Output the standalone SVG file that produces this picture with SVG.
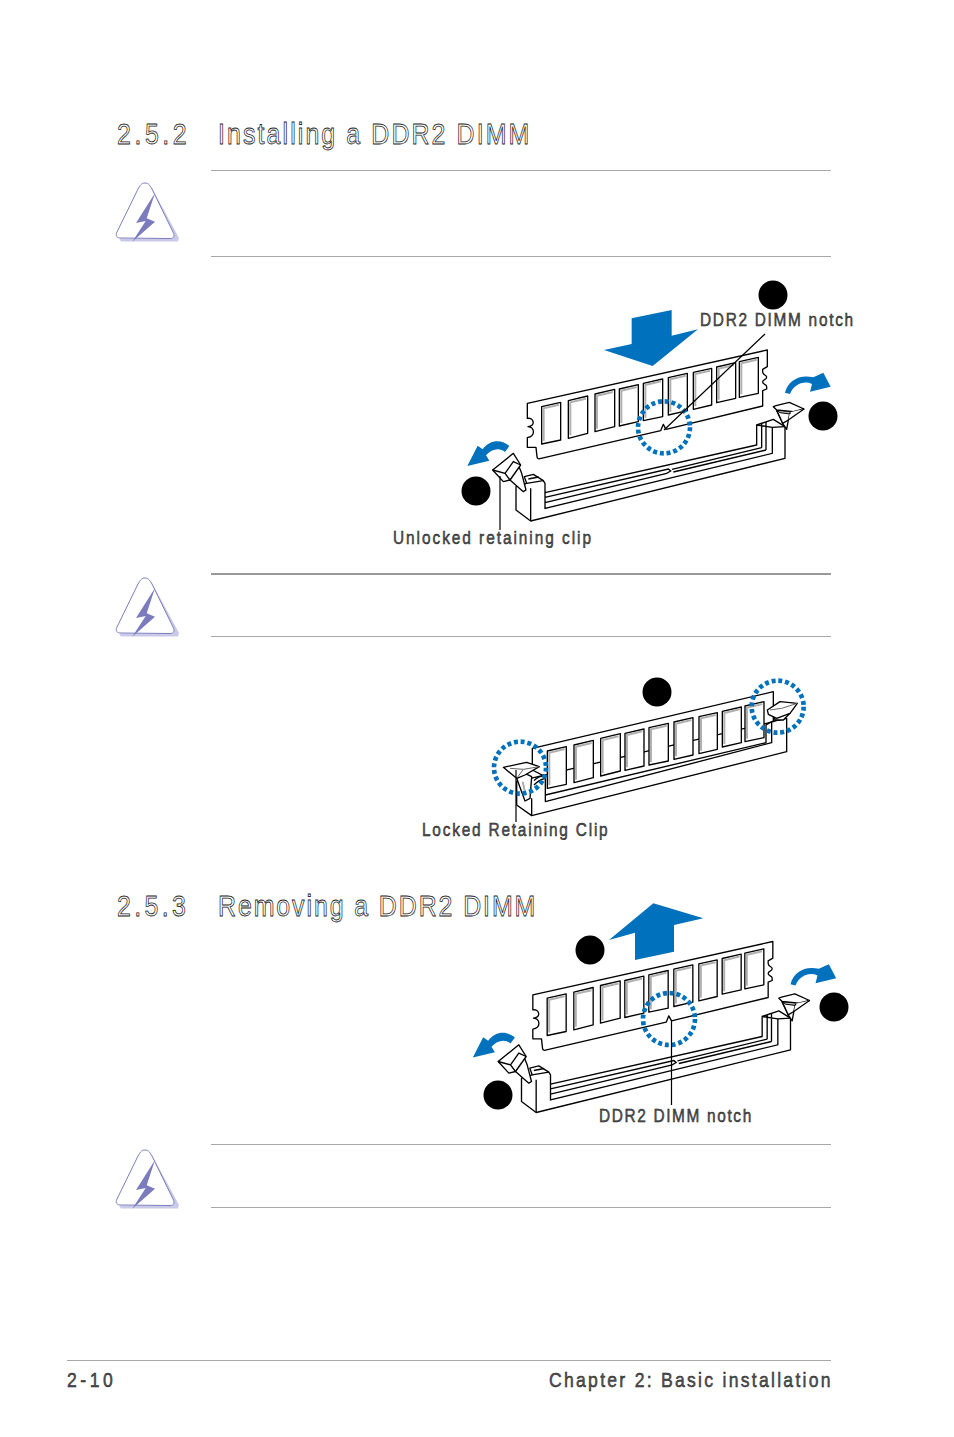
<svg xmlns="http://www.w3.org/2000/svg" xmlns:xlink="http://www.w3.org/1999/xlink" width="954" height="1437" viewBox="0 0 954 1437">
<style>
.h{font-family:"Liberation Sans",Arial,sans-serif;font-size:29px;fill:#fff;stroke:#222;stroke-width:.8px;opacity:.99}
.l{font-family:"Liberation Sans",Arial,sans-serif;font-size:17.5px;fill:#555;stroke:#111;stroke-width:.45px;opacity:.99}
.f{font-family:"Liberation Sans",Arial,sans-serif;font-size:20px;fill:#555;stroke:#111;stroke-width:.45px;opacity:.99}
.r{stroke:#a8a8a8;stroke-width:1.2;fill:none}
.k{fill:#fff;stroke:#000;stroke-width:4;stroke-linejoin:round}
.g{fill:#bdbdbd;stroke:#000;stroke-width:3;stroke-linejoin:round}
.n{fill:none;stroke:#000;stroke-width:4}
.c{fill:none;stroke:#b0b0b0;stroke-width:6}
.b{fill:#0071bc}
.d{fill:none;stroke:#0071bc;stroke-width:14;stroke-dasharray:12 8.400}
.s{fill:none;stroke:#000;stroke-width:1.2}
</style>
<defs>
<g id="warn">
<path d="M151 186L179 238L178 241.500H121L119 238.500H172.500L174 236Z" fill="#c9c9e8"/>
<path d="M145 183C141 183 140 186 138 189L117 232C115 236 117 238 121 238L170 238.500C174 238.500 175 236 173 232L152 189C150 186 149 183 145 183Z" fill="#fff" stroke="#7d7dbd" stroke-width="1"/>
<path d="M155 193L136 223L145.700 221L132.300 241.700L155 221.700L146.700 218.300Z" fill="#7b7bbd"/>
</g>
<g id="chips">
<path class="k" d="M245 410L302 397V510L245 522ZM325 392L383 378V490L325 505ZM405 372L464 358V470L405 485ZM478 357L535 344V455L478 468ZM550 340L608 327V440L550 452ZM625 323L682 310V422L625 435ZM700 307L755 295V405L700 418ZM770 291L827 278V385L770 398ZM838 275L895 262V370L838 382Z"/>
<path class="c" d="M251 513V415L297 404M331 496V397L378 386M411 476V377L459 366M484 459V362L530 351M556 443V345L603 334M631 426V328L677 317M706 409V312L750 302M776 389V296L822 285M844 373V280L890 269"/>
</g>
<g id="module">
<path class="k" d="M202 400L922 240V290L908 298V306C908 316 920 314 920 322C920 330 908 328 908 336C908 344 920 342 920 350V357L908 362V408L618 478L610 463L602 482L240 566Q232 568 231 560L228 532H202V503C228 498 224 472 204 470C228 468 222 442 202 445Z"/>
<use href="#chips" xlink:href="#chips"/>
</g>
<g id="socket">
<path class="k" d="M168 650V720L212 753L975 565V470L940 448L890 465V525L255 668V640L250 632L220 613L193 620L200 640L168 650Z"/>
<path class="n" d="M212 753V655M200 640L250 632M205 627L236 621M255 668V715L937 550V472L975 470M890 465L937 472M905 460V533M918 456V540M255 682L625 597L632 603L620 610L255 698M636 598L905 533M640 606L918 540"/>
<path class="k" d="M150 630L175 585L185 610L198 660L190 665Z"/>
<path class="k" d="M98 600L160 550L182 585L150 630L130 635Z"/>
<path class="n" d="M98 600L135 610L150 630M135 610L160 575L182 585"/>
<path class="k" d="M968 460L980 478L985 450L950 422Z"/>
<path class="k" d="M950 420L990 427L985 450L968 460Z"/>
<path class="g" d="M950 420L1000 425L990 432L960 428Z"/>
<path class="k" d="M940 410L948 407L988 397L1032 417L1000 425L950 420Z"/>
<path class="k" d="M1032 417L985 450L990 427Z" style="stroke:none"/>
<path class="n" d="M1032 417L985 450M990 427V432"/>
</g>
<g id="open">
<use href="#socket" xlink:href="#socket"/>
<use href="#module" xlink:href="#module"/>
<path class="b" d="M975 368C985 330 1020 312 1060 322L1090 308L1112 350L1050 365L1056 342C1030 330 1000 345 990 372Z"/>
<path class="b" d="M148 528C125 508 90 508 68 538L53 527L22 588L88 572L78 556C95 535 120 532 135 546Z"/>
</g>
</defs>

<g id="section-252">
<text class="h" transform="translate(117 144) scale(.86 1)" textLength="81" lengthAdjust="spacing">2.5.2</text>
<text class="h" transform="translate(218 144) scale(.86 1)" textLength="362" lengthAdjust="spacing">Installing a DDR2 DIMM</text>
</g>
<g id="rules">
<path class="r" d="M211 170.500H831M211 256.500H831M211 636.500H831M211 1144.500H831M211 1207.500H831M67 1360.500H831"/>
<path d="M211 574H831" stroke="#999" stroke-width="1.800"/>
</g>
<g id="warning-1"><use href="#warn" xlink:href="#warn"/></g>
<g id="warning-2"><use href="#warn" xlink:href="#warn" y="395"/></g>
<g id="warning-3"><use href="#warn" xlink:href="#warn" y="967"/></g>

<g id="install-figure" transform="translate(460 270) scale(.33333)">
<use href="#open" xlink:href="#open"/>
<path class="b" d="M515 145L635 120V197L714 178L578 288L432 240L515 222Z"/>
<circle class="d" cx="612" cy="472" r="78"/>
</g>

<g id="locked-figure" transform="translate(410 670) scale(.33333)">
<path class="k" d="M320 335V405L365 437L1130 245V145L1085 155V218L406 395V320L367 300V235L1090 65V155Z"/>
<g transform="translate(167 -167)"><use href="#chips" xlink:href="#chips"/></g>
<path class="n" d="M406 375L1068 218V165L1085 155M365 437V385M1085 155L1125 145"/>
<path class="n" d="M372 332C385 318 395 318 405 318M372 345C385 330 395 328 405 325"/>
<path class="k" d="M320 325L345 393L360 385L365 320L345 310Z"/>
<path class="c" d="M338 335L347 375"/>
<path class="k" d="M280 292L350 277L388 290L345 315L320 325Z"/>
<path d="M300 295L340 298L388 290M340 298L320 325" fill="none" stroke="#666" stroke-width="3"/>
<path class="k" d="M1090 130L1095 150H1120L1140 130Z"/>
<path class="k" d="M1072 120L1110 95L1162 100L1140 130L1100 145L1075 133Z"/>
<path d="M1080 120L1115 115L1162 100" fill="none" stroke="#666" stroke-width="3"/>
<circle class="d" cx="330" cy="293" r="78"/>
<circle class="d" cx="1103" cy="110" r="78"/>
</g>

<g id="remove-figure" transform="translate(465.500 861.500) scale(.33333)">
<use href="#open" xlink:href="#open"/>
</g>
<g id="remove-arrow" transform="translate(460 890) scale(.33333)">
<path class="b" d="M580 40L730 85L642 105V185L525 210V128L447 150Z"/>
<circle class="d" cx="627" cy="387" r="78"/>
</g>

<g id="connectors">
<path class="s" d="M765 334L664 430M500 476V530M516 770V822M671.500 1021V1105"/>
</g>

<g id="badge-1"><circle cx="773" cy="295" r="14.500"/></g>
<g id="badge-2"><circle cx="823" cy="416" r="14.500"/></g>
<g id="badge-3"><circle cx="476" cy="491" r="14.500"/></g>
<g id="badge-4"><circle cx="657" cy="692" r="14.500"/></g>
<g id="badge-5"><circle cx="590" cy="950" r="14.500"/></g>
<g id="badge-6"><circle cx="834" cy="1007" r="14.500"/></g>
<g id="badge-7"><circle cx="498" cy="1095" r="14.500"/></g>

<g id="labels">
<text class="l" transform="translate(700 326) scale(.88 1)" textLength="174" lengthAdjust="spacing">DDR2 DIMM notch</text>
<text class="l" transform="translate(393 544) scale(.88 1)" textLength="225" lengthAdjust="spacing">Unlocked retaining clip</text>
<text class="l" transform="translate(422 836) scale(.88 1)" textLength="211" lengthAdjust="spacing">Locked Retaining Clip</text>
<text class="l" transform="translate(599 1122) scale(.88 1)" textLength="173" lengthAdjust="spacing">DDR2 DIMM notch</text>
</g>
<g id="section-253">
<text class="h" transform="translate(117 916) scale(.86 1)" textLength="80" lengthAdjust="spacing">2.5.3</text>
<text class="h" transform="translate(218 916) scale(.86 1)" textLength="369" lengthAdjust="spacing">Removing a DDR2 DIMM</text>
</g>
<g id="footer">
<text class="f" transform="translate(67 1387) scale(.88 1)" textLength="52" lengthAdjust="spacing">2-10</text>
<text class="f" transform="translate(549 1387) scale(.88 1)" textLength="320" lengthAdjust="spacing">Chapter 2: Basic installation</text>
</g>
</svg>
